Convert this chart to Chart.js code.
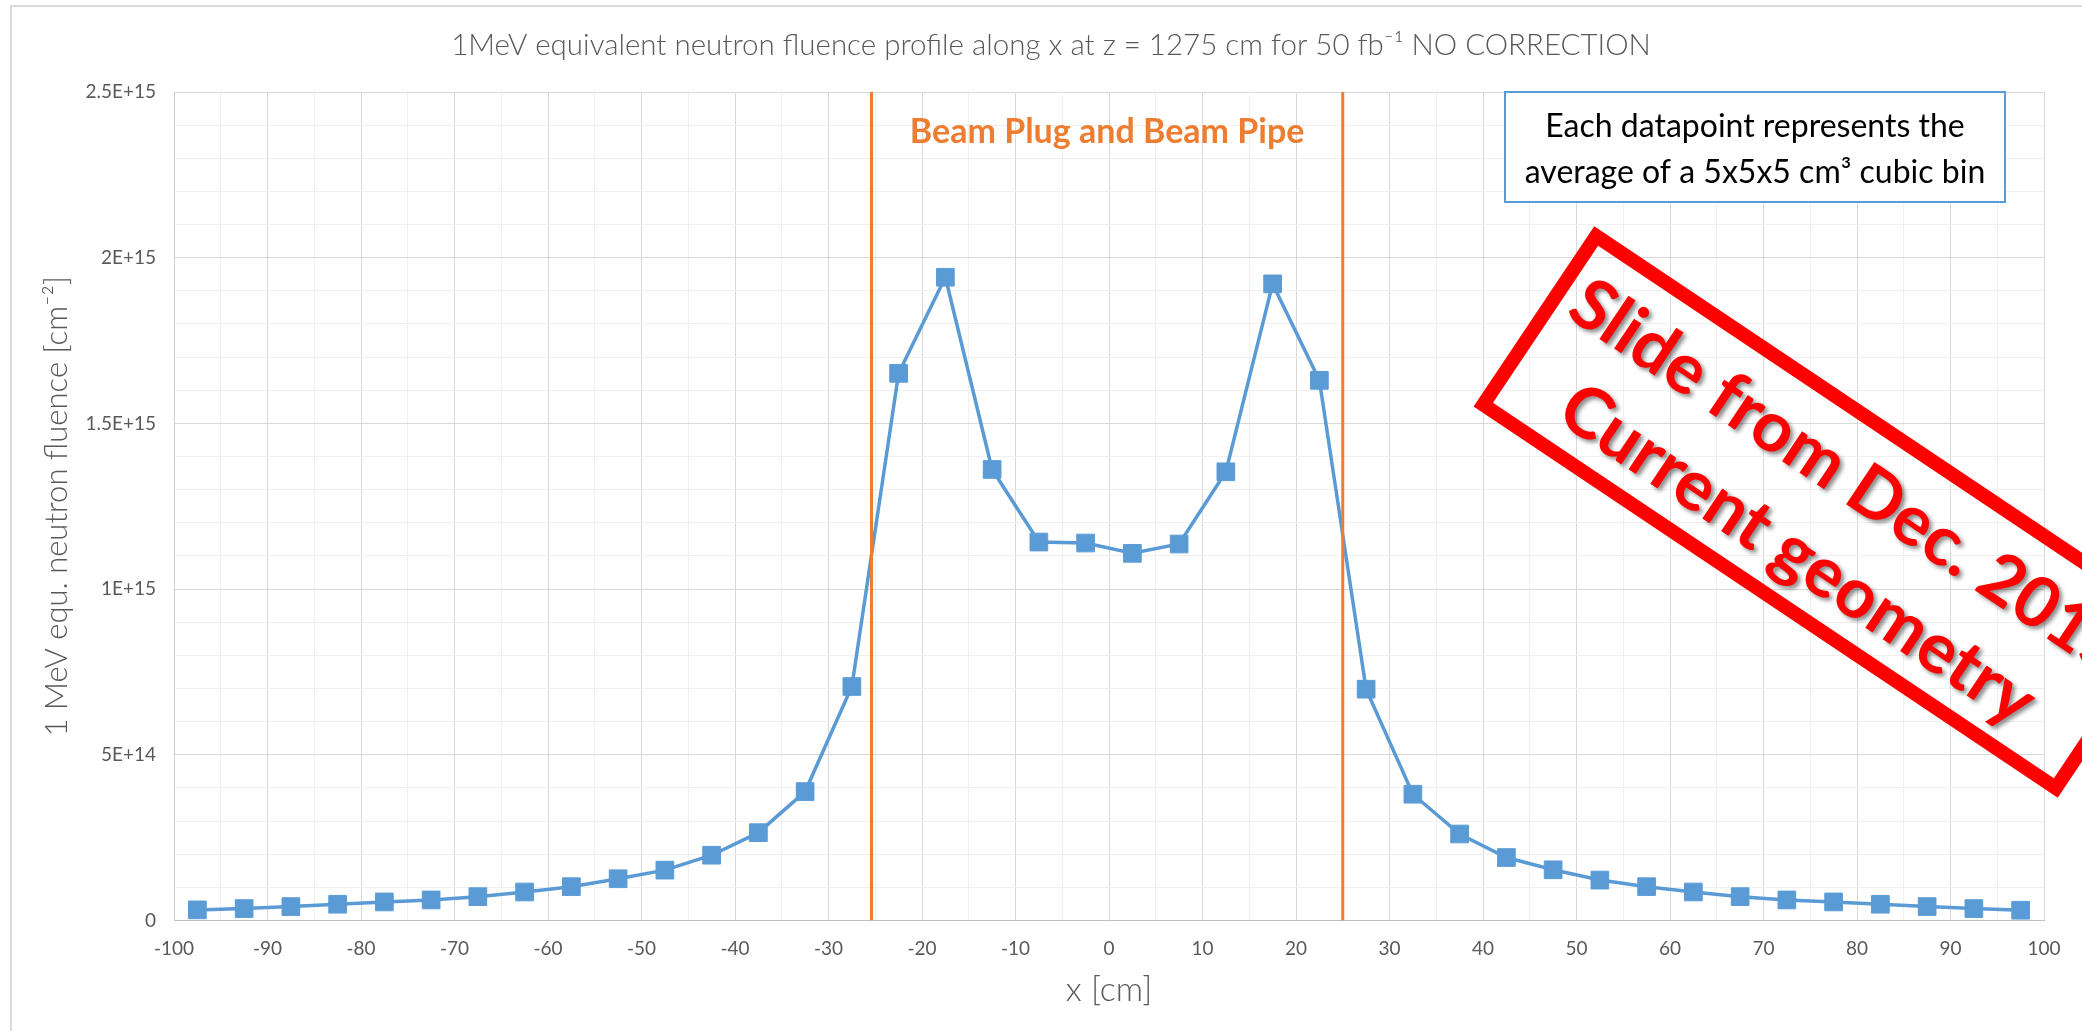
<!DOCTYPE html>
<html><head><meta charset="utf-8">
<script src="https://cdn.jsdelivr.net/npm/chart.js@4/dist/chart.umd.min.js"></script>
<style>html,body{margin:0;padding:0;background:#fff;overflow:hidden}#c{display:block}</style>
</head><body>
<canvas id="c" width="2082" height="1031" style="width:2082px;height:1031px"></canvas>
<script>
const xPositions = [-97.5,-92.5,-87.5,-82.5,-77.5,-72.5,-67.5,-62.5,-57.5,-52.5,-47.5,-42.5,-37.5,-32.5,-27.5,-22.5,-17.5,-12.5,-7.5,-2.5,2.5,7.5,12.5,17.5,22.5,27.5,32.5,37.5,42.5,47.5,52.5,57.5,62.5,67.5,72.5,77.5,82.5,87.5,92.5,97.5];
const fluence = [3.2e13,3.6e13,4.2e13,4.9e13,5.6e13,6.2e13,7.2e13,8.6e13,1.02e14,1.26e14,1.52e14,1.97e14,2.65e14,3.89e14,7.06e14,1.651e15,1.941e15,1.361e15,1.142e15,1.139e15,1.108e15,1.136e15,1.354e15,1.921e15,1.63e15,6.98e14,3.81e14,2.61e14,1.9e14,1.53e14,1.22e14,1.02e14,8.6e13,7.2e13,6.2e13,5.6e13,4.9e13,4.2e13,3.6e13,3.1e13];
const beamEdges = [-25.4, 25];
const yTickValues = [0, 5e14, 1e15, 1.5e15, 2e15, 2.5e15];
const yTickLabels = ['0', '5E+14', '1E+15', '1.5E+15', '2E+15', '2.5E+15'];
const titleText = '1MeV equivalent neutron fluence profile along x at z = 1275 cm for 50 fb\u207B\u00B9 NO CORRECTION';
const xAxisTitle = 'x [cm]';
const yAxisTitle = '1 MeV equ. neutron fluence [cm\u207B\u00B2]';
const beamLabel = 'Beam Plug and Beam Pipe';
const beamLabelLevel = 2.38e15;
const noteLines = ['Each datapoint represents the', 'average of a 5x5x5 cm\u00B3 cubic bin'];
const stampLines = ['Slide from Dec. 2015', 'Current geometry'];

const GREY = '#595959';
const BLUE = '#5B9BD5';
const ORANGE = '#ED7D31';
const MAJOR = '#d9d9d9';
const MINOR = '#f0f0f0';

const decor = {
  id: 'decor',
  beforeDraw(chart) {
    const ctx = chart.ctx;
    ctx.save();
    ctx.fillStyle = '#fff';
    ctx.fillRect(0, 0, chart.width, chart.height);
    ctx.strokeStyle = '#d9d9d9';
    ctx.lineWidth = 2;
    ctx.beginPath();
    ctx.moveTo(11, chart.height + 5);
    ctx.lineTo(11, 6);
    ctx.lineTo(chart.width + 5, 6);
    ctx.stroke();
    // chart title
    ctx.font = '300 29.5px Lato';
    ctx.fillStyle = GREY;
    ctx.textAlign = 'center';
    ctx.textBaseline = 'middle';
    ctx.fillText(titleText, 1051, 45);
    ctx.restore();
  },
  afterDraw(chart) {
    const {ctx, chartArea, scales: {x, y}} = chart;
    ctx.save();
    // beam label
    ctx.font = 'bold 34px Lato';
    ctx.fillStyle = ORANGE;
    ctx.textAlign = 'center';
    ctx.textBaseline = 'middle';
    ctx.fillText(beamLabel, x.getPixelForValue((beamEdges[0] + beamEdges[1]) / 2), y.getPixelForValue(beamLabelLevel));
    // note box
    const bw = 500, bh = 110;
    const bx = chartArea.right - 539, by = chartArea.top;
    ctx.fillStyle = '#fff';
    ctx.fillRect(bx, by, bw, bh);
    ctx.strokeStyle = BLUE;
    ctx.lineWidth = 2;
    ctx.strokeRect(bx, by, bw, bh);
    ctx.fillStyle = '#000';
    ctx.font = '32px Lato';
    ctx.textBaseline = 'alphabetic';
    ctx.fillText(noteLines[0], bx + bw / 2, by + 45);
    ctx.fillText(noteLines[1], bx + bw / 2, by + 91);
    ctx.restore();

    // stamp
    ctx.save();
    ctx.translate(1826, 512);
    ctx.rotate(33.8 * Math.PI / 180);
    ctx.strokeStyle = '#FF0000';
    ctx.lineWidth = 14;
    ctx.strokeRect(-344.5, -101.5, 689, 203);
    ctx.font = 'bold 100px Lato';
    const w = ctx.measureText(stampLines[1]).width;
    const fs = 100 * 555 / w;
    ctx.font = 'bold ' + fs.toFixed(1) + 'px Lato';
    ctx.fillStyle = '#FF0000';
    ctx.textAlign = 'center';
    ctx.textBaseline = 'alphabetic';
    ctx.shadowColor = 'rgba(0,0,0,0.45)';
    ctx.shadowOffsetX = 3;
    ctx.shadowOffsetY = 3;
    ctx.shadowBlur = 4;
    ctx.fillText(stampLines[0], 0, -43 + 0.36 * fs);
    ctx.fillText(stampLines[1], 0, 49 + 0.36 * fs);
    ctx.restore();
  }
};

const edgeSets = beamEdges.map(e => ({
  data: [{x: e, y: yTickValues[0]}, {x: e, y: yTickValues[yTickValues.length - 1]}],
  borderColor: ORANGE,
  borderWidth: 3,
  pointRadius: 0,
  showLine: true,
  fill: false
}));

const mainSet = {
  data: xPositions.map((v, i) => ({x: v, y: fluence[i]})),
  borderColor: BLUE,
  backgroundColor: BLUE,
  borderWidth: 3.5,
  pointStyle: 'rect',
  pointRadius: 12.5,
  pointBorderWidth: 1,
  pointBorderColor: BLUE,
  pointBackgroundColor: BLUE,
  showLine: true,
  tension: 0,
  fill: false
};

new Chart(document.getElementById('c'), {
  type: 'scatter',
  data: {datasets: [...edgeSets, mainSet]},
  plugins: [decor],
  options: {
    responsive: false,
    animation: false,
    devicePixelRatio: 1,
    layout: {padding: {left: 0, right: 38, top: 92, bottom: 0}},
    plugins: {
      legend: {display: false},
      tooltip: {enabled: false},
      title: {display: false}
    },
    scales: {
      x: {
        type: 'linear',
        min: -100,
        max: 100,
        afterFit: s => { s.height = 110.5; },
        border: {color: '#bfbfbf', width: 1},
        grid: {
          drawTicks: false,
          lineWidth: 1,
          color: c => (Math.abs(c.tick.value % 10) < 1e-6 ? MAJOR : MINOR)
        },
        ticks: {
          stepSize: 5,
          autoSkip: false,
          maxRotation: 0,
          padding: 17,
          color: GREY,
          font: {family: 'Lato', size: 19},
          callback: v => (Math.abs(v % 10) < 1e-6 ? String(v) : '')
        },
        title: {
          display: true,
          text: xAxisTitle,
          color: GREY,
          font: {family: 'Lato', size: 34, weight: '300', lineHeight: 1.2},
          padding: {top: 0, bottom: 21}
        }
      },
      y: {
        min: yTickValues[0],
        max: yTickValues[yTickValues.length - 1],
        afterFit: s => { s.width = 174; },
        border: {color: '#d0d0d0', width: 1},
        grid: {
          drawTicks: false,
          lineWidth: 1,
          color: c => {
            const r = c.tick.value / 5e14;
            return Math.abs(r - Math.round(r)) < 1e-6 ? MAJOR : MINOR;
          }
        },
        ticks: {
          stepSize: 1e14,
          autoSkip: false,
          padding: 18,
          color: GREY,
          font: {family: 'Lato', size: 19},
          callback: v => {
            const i = yTickValues.findIndex(t => Math.abs(t - v) < 1e12);
            return i >= 0 ? yTickLabels[i] : '';
          }
        },
        title: {
          display: true,
          text: yAxisTitle,
          color: GREY,
          font: {family: 'Lato', size: 31, weight: '300', lineHeight: 1.2},
          padding: {top: 38, bottom: 0}
        }
      }
    }
  }
});
</script>
</body></html>
